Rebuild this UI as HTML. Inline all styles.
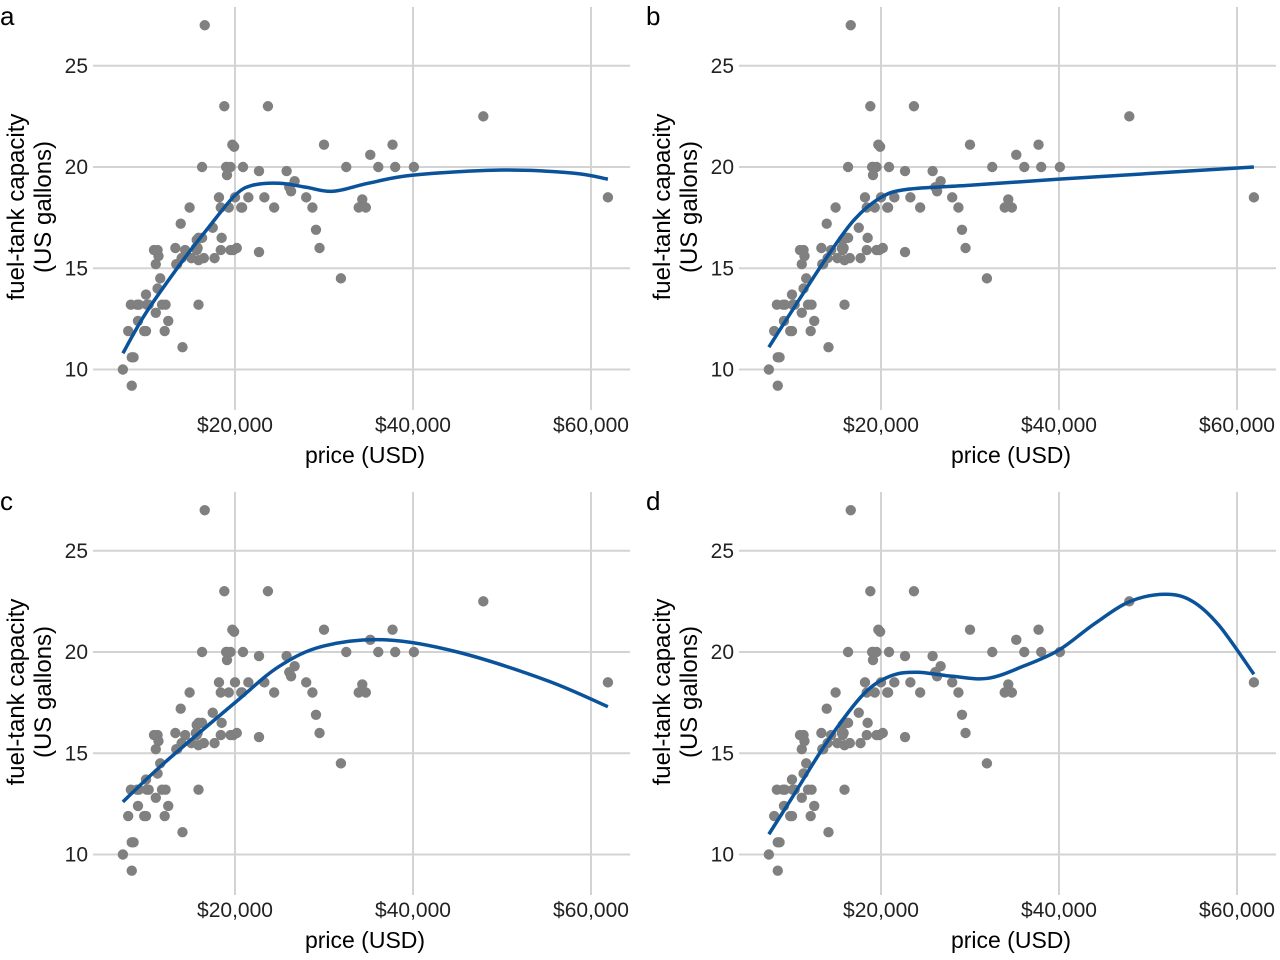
<!DOCTYPE html>
<html><head><meta charset="utf-8"><style>
html,body{margin:0;padding:0;background:#fff;}
svg{display:block;font-family:"Liberation Sans",sans-serif;}
</style></head><body>
<svg id="chart" width="1280" height="960"></svg>
<script>
const prices=[15.9,33.9,29.1,37.7,30.0,15.7,20.8,23.7,26.3,34.7,40.1,13.4,11.4,15.1,15.9,16.3,16.6,18.8,38.0,18.4,15.8,29.5,9.2,11.3,13.3,19.0,15.6,25.8,12.2,19.3,7.4,10.1,11.3,15.9,14.0,19.9,20.2,20.9,8.4,12.5,19.8,12.1,17.5,8.0,10.0,10.0,13.9,47.9,28.0,35.2,34.3,36.1,8.3,11.6,16.5,19.1,32.5,31.9,61.9,14.1,14.9,10.3,26.1,11.8,15.7,19.1,21.5,13.5,16.3,19.5,20.7,14.4,9.0,11.1,17.7,18.5,24.4,28.7,11.1,8.4,10.9,19.5,8.6,9.8,18.4,18.2,22.7,9.1,19.7,20.0,23.3,22.7,26.7];
const tanks=[13.2,18.0,16.9,21.1,21.1,16.4,18.0,23.0,18.8,18.0,20.0,15.2,15.6,15.5,16.5,20.0,27.0,23.0,20.0,18.0,16.0,16.0,13.2,14.0,16.0,20.0,16.0,19.8,13.2,18.0,10.0,13.2,15.9,15.4,15.5,21.0,16.0,20.0,10.6,12.4,15.9,11.9,17.0,11.9,13.7,11.9,17.2,22.5,18.5,20.6,18.4,20.0,13.2,14.5,15.5,19.6,20.0,14.5,18.5,11.1,18.0,13.2,19.0,13.2,15.9,20.0,18.5,15.2,16.5,20.0,18.0,15.9,13.2,15.2,15.5,16.5,18.0,18.0,12.8,9.2,15.9,15.9,10.6,11.9,15.9,18.5,19.8,12.4,21.1,18.5,18.5,15.8,19.3];
const xTicks=[20,40,60];
const xTickLabels=["$20,000","$40,000","$60,000"];
const yTicks=[10,15,20,25];
const panelLabels=["a","b","c","d"];
const fitAx=[7.4,10,14,17,20,22,25,28,31,35,40,50,58,61.9];
const fitAy=[10.8,12.8,15.3,17.0,18.6,19.1,19.2,19.0,18.8,19.2,19.6,19.85,19.7,19.4];
const fitBx=[7.4,10,14,17,20,23,30,40,61.9];
const fitBy=[11.1,12.9,15.6,17.4,18.5,18.9,19.1,19.4,20.0];
const fitCx=[7.4,12,20,25,30,37,45,55,61.9];
const fitCy=[12.6,14.5,17.5,19.3,20.3,20.6,20.0,18.6,17.3];
const fitDx=[7.4,10,14,18,21,24,28,32,36,40,44,48,52,55,58,61.9];
const fitDy=[11.0,12.8,15.6,17.9,18.8,19.0,18.8,18.7,19.3,20.1,21.4,22.5,22.85,22.5,21.3,18.9];
const fitsX=[fitAx,fitBx,fitCx,fitDx], fitsY=[fitAy,fitBy,fitCy,fitDy];

const NS="http://www.w3.org/2000/svg";
const svg=document.getElementById('chart');
function mk(tag,attrs,parent){const e=document.createElementNS(NS,tag);for(const k in attrs)e.setAttribute(k,attrs[k]);parent.appendChild(e);return e;}
const offs=[[0,0],[646,0],[0,485],[646,485]];
for(let p=0;p<4;p++){
  const ox=offs[p][0], oy=offs[p][1];
  const g=mk('g',{transform:`translate(${ox},${oy})`},svg);
  
  
  const X=v=>57+v*8.9, Y=v=>167-(v-20)*20.25;
  yTicks.forEach(t=>{
    const l=mk('line',{x1:93,x2:630,y1:Y(t),y2:Y(t),stroke:'#d3d3d3','stroke-width':2},g);
    
    
    const tx=mk('text',{x:88,y:Y(t)+7,'text-anchor':'end','font-size':21,fill:'#222'},g);
    tx.textContent=t;
    
    
  });
  xTicks.forEach((t,i)=>{
    const l=mk('line',{x1:X(t),x2:X(t),y1:7,y2:410,stroke:'#d3d3d3','stroke-width':2},g);
    
    
    const tx=mk('text',{x:X(t),y:432,'text-anchor':'middle','font-size':21,fill:'#222'},g);
    tx.textContent=xTickLabels[i];
    
    
  });
  prices.forEach((v,i)=>{
    const c=mk('circle',{cx:X(v),cy:Y(tanks[i]),r:5.2,fill:'#808080'},g);
    
    
  });
  const fx=fitsX[p], fy=fitsY[p];
  const pts=fx.map((v,i)=>[X(v),Y(fy[i])]);
  let d=`M${pts[0][0]},${pts[0][1]}`;
  for(let i=0;i<pts.length-1;i++){
    const p0=pts[Math.max(0,i-1)],p1=pts[i],p2=pts[i+1],p3=pts[Math.min(pts.length-1,i+2)];
    const c1=[p1[0]+(p2[0]-p0[0])/6,p1[1]+(p2[1]-p0[1])/6];
    const c2=[p2[0]-(p3[0]-p1[0])/6,p2[1]-(p3[1]-p1[1])/6];
    d+=` C${c1[0]},${c1[1]} ${c2[0]},${c2[1]} ${p2[0]},${p2[1]}`;
  }
  const path=mk('path',{d:d,fill:'none',stroke:'#0a539b','stroke-width':3.5},g);
  
  
  const lab=mk('text',{x:0,y:25,'font-size':26,fill:'#000'},g);
  lab.textContent=panelLabels[p];
  
  
  const xt=mk('text',{x:365,y:463,'text-anchor':'middle','font-size':23,fill:'#000'},g);
  xt.textContent='price (USD)';
  
  
  const yt=mk('text',{transform:'translate(24,207) rotate(-90)','text-anchor':'middle','font-size':24,fill:'#000'},g);
  
  
  const s1=mk('tspan',{x:0,dy:0},yt); s1.textContent='fuel-tank capacity';
  const s2=mk('tspan',{x:0,dy:27},yt); s2.textContent='(US gallons)';
}
</script>
</body></html>
